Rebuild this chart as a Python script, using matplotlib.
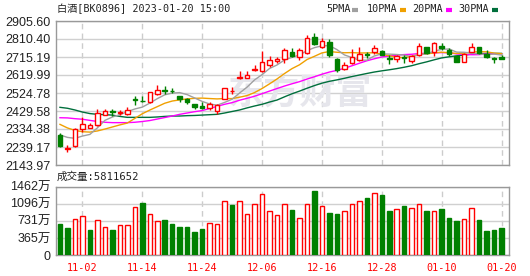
import numpy as np
import pandas as pd
import matplotlib
matplotlib.use('Agg')
import matplotlib.pyplot as plt
from matplotlib.lines import Line2D

# K-line data, 2022-10-28 .. 2023-01-20 (60 trading days)
opens = [2300, 2229, 2242, 2333, 2342, 2356, 2408, 2430, 2419, 2412,
         2493, 2485, 2476, 2520, 2542, 2538, 2509, 2492, 2464, 2458,
         2444, 2427, 2493, 2534, 2602, 2606, 2648, 2643, 2673, 2693,
         2706, 2743, 2717, 2736, 2821, 2767, 2792, 2705, 2652, 2682,
         2699, 2730, 2739, 2747, 2711, 2705, 2714, 2696, 2728, 2767,
         2742, 2775, 2754, 2719, 2690, 2743, 2767, 2733, 2708, 2714]
highs = [2311, 2250, 2342, 2396, 2365, 2439, 2439, 2440, 2435, 2449,
         2509, 2511, 2532, 2567, 2563, 2553, 2511, 2500, 2465, 2476,
         2476, 2469, 2551, 2558, 2643, 2643, 2673, 2749, 2721, 2714,
         2761, 2761, 2761, 2832, 2842, 2814, 2808, 2708, 2690, 2760,
         2770, 2743, 2781, 2752, 2726, 2726, 2728, 2726, 2787, 2770,
         2796, 2791, 2761, 2723, 2738, 2789, 2770, 2752, 2717, 2728]
lows = [2239, 2213, 2239, 2320, 2338, 2352, 2407, 2405, 2408, 2408,
        2459, 2476, 2474, 2514, 2518, 2523, 2476, 2465, 2440, 2439,
        2435, 2414, 2492, 2518, 2599, 2604, 2643, 2637, 2661, 2682,
        2684, 2717, 2698, 2731, 2779, 2761, 2717, 2637, 2649, 2678,
        2696, 2708, 2731, 2726, 2677, 2689, 2685, 2682, 2723, 2731,
        2723, 2752, 2722, 2689, 2687, 2740, 2731, 2708, 2686, 2703]
closes = [2244, 2234, 2334, 2361, 2356, 2417, 2432, 2423, 2423, 2435,
          2488, 2481, 2529, 2541, 2537, 2534, 2493, 2476, 2452, 2447,
          2465, 2461, 2550, 2536, 2612, 2620, 2652, 2689, 2699, 2705,
          2752, 2721, 2752, 2814, 2784, 2800, 2726, 2649, 2673, 2714,
          2731, 2725, 2761, 2728, 2707, 2721, 2710, 2721, 2773, 2735,
          2789, 2761, 2730, 2690, 2731, 2768, 2735, 2715, 2705, 2704]

# volume in 万, and colour of each volume bar (1 = red / up)
volumes = [663, 578, 763, 827, 535, 742, 592, 535, 635, 635,
           1020, 1112, 870, 720, 749, 663, 599, 599, 492, 556,
           677, 656, 1148, 1070, 1148, 870, 1084, 1298, 934, 848,
           1098, 963, 784, 1098, 1369, 1041, 899, 877, 934, 1098,
           1148, 1219, 1319, 1284, 941, 977, 1048, 998, 1098, 941,
           934, 984, 791, 727, 763, 998, 749, 513, 535, 581]
vol_up = [0, 0, 1, 1, 0, 1, 1, 0, 1, 1,
          1, 0, 1, 1, 0, 0, 0, 0, 0, 0,
          1, 1, 1, 0, 1, 1, 1, 1, 1, 1,
          1, 0, 1, 1, 0, 1, 0, 0, 1, 1,
          1, 0, 1, 0, 0, 1, 0, 1, 1, 0,
          1, 0, 0, 0, 1, 1, 0, 0, 0, 0]

# moving average values before a full window is available
ma5_head = [2303, 2290, 2285, 2297]
ma10_head = [2359, 2340, 2327, 2320, 2318, 2324, 2334, 2345, 2356]
ma20_head = [2394, 2393, 2389, 2386, 2380, 2374, 2370, 2368, 2368, 2368,
             2370, 2374, 2379, 2387, 2395, 2403, 2412, 2419, 2426]
ma30_head = [2449, 2444, 2435, 2424, 2416, 2412, 2410, 2408, 2401, 2396,
             2396, 2396, 2396, 2398, 2401, 2403, 2403, 2405, 2406, 2408,
             2410, 2412, 2419, 2427, 2435, 2446, 2456, 2465, 2477]

tick_pos = [3, 11, 19, 27, 35, 43, 51, 59]
tick_labels = ['11-02', '11-14', '11-24', '12-06', '12-16', '12-28', '01-10', '01-20']
price_ticks = [2143.97, 2239.17, 2334.38, 2429.58, 2524.78, 2619.99, 2715.19, 2810.40, 2905.60]
vol_ticks = [0, 365, 731, 1096, 1462]
vol_tick_labels = ['0', '365万', '731万', '1096万', '1462万']

RED = '#ff0000'
GREEN = '#008000'
MONO = ['DejaVu Sans Mono', 'Noto Sans CJK SC']
SANS = ['Liberation Sans', 'Noto Sans CJK SC']
W, H = 530, 276


def fx(px):
    return px / W


def fy(py):
    return 1 - py / H


o = np.array(opens, float)
h = np.array(highs, float)
l = np.array(lows, float)
c = np.array(closes, float)
x = np.arange(len(o))
up = c >= o

s = pd.Series(c)
ma = {}
for n, head in [(5, ma5_head), (10, ma10_head), (20, ma20_head), (30, ma30_head)]:
    m = s.rolling(n).mean().to_numpy()
    m[:n - 1] = head
    ma[n] = m

fig = plt.figure(figsize=(W / 100, H / 100), dpi=100)
ax = fig.add_axes([fx(56), fy(165), fx(509) - fx(56), fy(21) - fy(165)])
axv = fig.add_axes([fx(56), fy(255), fx(509) - fx(56), fy(186.7) - fy(255)])

for a in (ax, axv):
    a.set_xlim(-0.53, 60.0)
    a.set_axisbelow(True)
    for sp in a.spines.values():
        sp.set_color('#999999')
        sp.set_linewidth(1)
    a.tick_params(length=0, pad=4)
    for t in tick_pos:
        a.axvline(t, color='#cccccc', lw=1, ls=(0, (4, 3)), zorder=0.5)

# price panel
ax.set_ylim(price_ticks[0], price_ticks[-1])
ax.set_yticks(price_ticks)
ax.set_yticklabels(['%.2f' % v for v in price_ticks], family=SANS, fontsize=9, color='#222222')
ax.grid(axis='y', color='#d0d0d0', lw=1)
ax.set_xticks([])

ax.text(fx(300), fy(93), '东方财富', transform=fig.transFigure, ha='center', va='center',
        fontsize=26, fontweight='bold', color='#e6e6ec', family='Noto Sans CJK SC', zorder=1)

ma_colors = {5: '#a0a0a0', 10: '#f0a000', 20: '#ff00ff', 30: '#006f3c'}
for n in (30, 20, 10, 5):
    ax.plot(x, ma[n], color=ma_colors[n], lw=1, zorder=2)

cols = np.where(up, RED, GREEN)
ax.vlines(x, l, h, colors=cols, lw=1, zorder=3)
bot = np.minimum(o, c)
hgt = np.maximum(np.abs(c - o), 0.8)
ax.bar(x[up], hgt[up], bottom=bot[up], width=0.6, facecolor='white', edgecolor=RED, lw=1, zorder=4)
ax.bar(x[~up], hgt[~up], bottom=bot[~up], width=0.6, facecolor=GREEN, edgecolor=GREEN, lw=1, zorder=4)

# volume panel
vu = np.array(vol_up, bool)
v = np.array(volumes, float)
axv.set_ylim(0, 1462)
axv.set_yticks(vol_ticks)
axv.set_yticklabels(vol_tick_labels, family=SANS, fontsize=9, color='#222222')
axv.grid(axis='y', color='#d0d0d0', lw=1)
axv.bar(x[vu], v[vu], width=0.6, facecolor='white', edgecolor=RED, lw=1, zorder=3)
axv.bar(x[~vu], v[~vu], width=0.6, facecolor=GREEN, edgecolor=GREEN, lw=1, zorder=3)
axv.set_xticks(tick_pos)
axv.set_xticklabels(tick_labels, family=MONO, fontsize=7.3, color=RED)
axv.tick_params(axis='x', pad=6)

# header texts
fig.text(fx(57), fy(9), '白酒[BK0896] 2023-01-20 15:00', ha='left', va='center',
         family=MONO, fontsize=7.3, color='#222222')
fig.text(fx(57), fy(177), '成交量:5811652', ha='left', va='center',
         family=MONO, fontsize=7.6, color='#222222')
legend_items = [('5PMA', 326, 352, ma_colors[5]), ('10PMA', 367, 400, ma_colors[10]),
                ('20PMA', 412, 446, ma_colors[20]), ('30PMA', 458, 492, ma_colors[30])]
for label, tx, mx, col in legend_items:
    fig.text(fx(tx), fy(9), label, ha='left', va='center', family=MONO, fontsize=7.3, color='#222222')
    fig.add_artist(Line2D([fx(mx), fx(mx + 6)], [fy(9.5), fy(9.5)], transform=fig.transFigure,
                          color=col, lw=3, solid_capstyle='butt'))

fig.savefig('out.png', dpi=100)
